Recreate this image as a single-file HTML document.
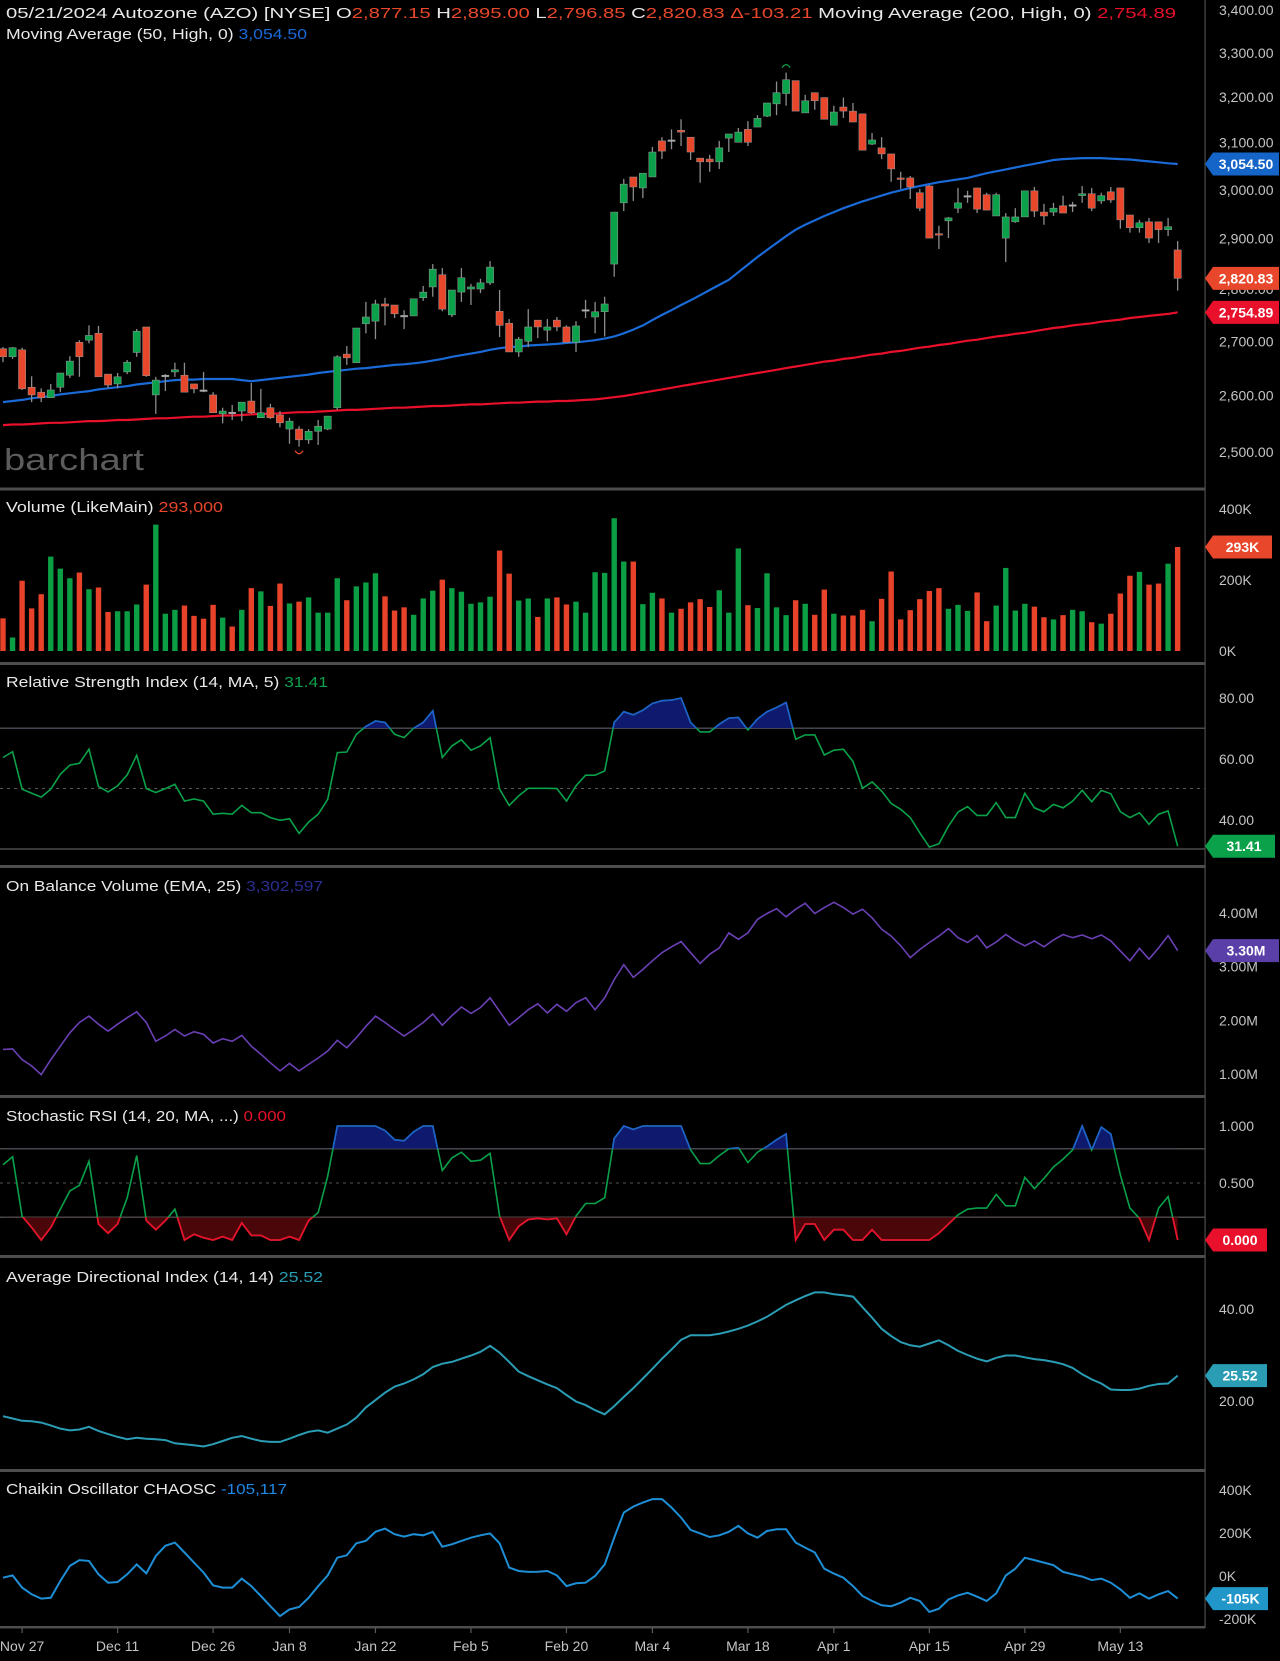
<!DOCTYPE html>
<html>
<head>
<meta charset="utf-8">
<style>
html,body{margin:0;padding:0;background:#000;}
svg{display:block;font-family:"Liberation Sans",Arial,sans-serif;}
.ax{fill:#c4c4c4;font-size:14px;}
.hd{fill:#e8e8e8;font-size:15px;}
.bt{fill:#fff;font-size:14px;font-weight:bold;text-anchor:middle;}
</style>
</head>
<body>
<svg id="chart" width="1280" height="1661" viewBox="0 0 1280 1661" xmlns="http://www.w3.org/2000/svg">
<defs>
<clipPath id="cMain"><rect x="0" y="0" width="1205" height="488"/></clipPath>
<clipPath id="cRsiAbove"><rect x="0" y="664" width="1205" height="64.3"/></clipPath>
<clipPath id="cRsi"><rect x="0" y="664" width="1205" height="201"/></clipPath>
<clipPath id="cStAbove"><rect x="0" y="1097" width="1205" height="51.8"/></clipPath>
<clipPath id="cStBelow"><rect x="0" y="1217.2" width="1205" height="38"/></clipPath>
</defs>
<rect x="0" y="0" width="1280" height="1661" fill="#000"/>

<text x="4" y="470" fill="#5c5c5c" font-size="31" textLength="140" lengthAdjust="spacingAndGlyphs">barchart</text>

<g id="grid">
<line x1="0" x2="1205" y1="728.3" y2="728.3" stroke="#4a4a4a" stroke-width="1.5"/>
<line x1="0" x2="1205" y1="788.5" y2="788.5" stroke="#555" stroke-dasharray="3,4"/>
<line x1="0" x2="1205" y1="849" y2="849" stroke="#4a4a4a" stroke-width="1.5"/>
<line x1="0" x2="1205" y1="1148.8" y2="1148.8" stroke="#4a4a4a" stroke-width="1.5"/>
<line x1="0" x2="1205" y1="1183" y2="1183" stroke="#555" stroke-dasharray="3,4"/>
<line x1="0" x2="1205" y1="1217.2" y2="1217.2" stroke="#4a4a4a" stroke-width="1.5"/>
</g>

<g id="marks"></g>

<g>
<rect x="0" y="487.5" width="1205" height="3" fill="#4d4d4d"/>
<rect x="0" y="662" width="1205" height="3" fill="#4d4d4d"/>
<rect x="0" y="865" width="1205" height="3" fill="#4d4d4d"/>
<rect x="0" y="1095" width="1205" height="3" fill="#4d4d4d"/>
<rect x="0" y="1255" width="1205" height="3" fill="#4d4d4d"/>
<rect x="0" y="1469" width="1205" height="3" fill="#4d4d4d"/>
<rect x="0" y="1626" width="1205" height="2.5" fill="#4d4d4d"/>
<rect x="1204.5" y="0" width="1.2" height="1628" fill="#4d4d4d"/>
</g>

<g id="axes"></g>

<text class="hd" x="6" y="18" textLength="1170" lengthAdjust="spacingAndGlyphs">05/21/2024 Autozone (AZO) [NYSE] O<tspan fill="#e8472b">2,877.15</tspan> H<tspan fill="#e8472b">2,895.00</tspan> L<tspan fill="#e8472b">2,796.85</tspan> C<tspan fill="#e8472b">2,820.83</tspan> <tspan fill="#e8472b">Δ-103.21</tspan> Moving Average  (200, High, 0) <tspan fill="#e8102a">2,754.89</tspan></text>
<text class="hd" x="6" y="39" textLength="301" lengthAdjust="spacingAndGlyphs">Moving Average  (50, High, 0) <tspan fill="#1a6ad8">3,054.50</tspan></text>
<text class="hd" x="6" y="512" textLength="217" lengthAdjust="spacingAndGlyphs">Volume  (LikeMain) <tspan fill="#e8472b">293,000</tspan></text>
<text class="hd" x="6" y="687" textLength="322" lengthAdjust="spacingAndGlyphs">Relative Strength Index  (14, MA, 5) <tspan fill="#0aa14a">31.41</tspan></text>
<text class="hd" x="6" y="891" textLength="317" lengthAdjust="spacingAndGlyphs">On Balance Volume  (EMA, 25) <tspan fill="#2b2f8f">3,302,597</tspan></text>
<text class="hd" x="6" y="1121" textLength="280" lengthAdjust="spacingAndGlyphs">Stochastic RSI  (14, 20, MA, ...) <tspan fill="#e8102a">0.000</tspan></text>
<text class="hd" x="6" y="1282" textLength="317" lengthAdjust="spacingAndGlyphs">Average Directional Index  (14, 14) <tspan fill="#2a9db5">25.52</tspan></text>
<text class="hd" x="6" y="1494" textLength="281" lengthAdjust="spacingAndGlyphs">Chaikin Oscillator CHAOSC <tspan fill="#1e88e5">-105,117</tspan></text>
</svg>

<script>
const opens=[2686,2671,2684,2615,2606,2596,2615,2637,2698,2702,2715,2639,2621,2643,2679,2727,2601,2637,2643,2637,2621,2610,2601,2567,2570,2572,2590,2560,2578,2565,2540,2540,2521,2536,2540,2578,2676,2660,2733,2738,2771,2769,2749,2748,2783,2804,2828,2750,2794,2800,2800,2812,2757,2734,2680,2700,2740,2721,2740,2727,2698,2760,2746,2756,2849,2973,3027,3004,3027,3104,3106,3127,3112,3067,3065,3059,3110,3101,3129,3134,3158,3185,3208,3237,3165,3210,3199,3138,3178,3169,3163,3097,3089,3076,3025,3025,2994,3008,2910,2936,2962,2988,3004,2990,2946,2901,2934,2944,2998,2954,2954,2967,2969,2988,2992,2977,2996,3004,2948,2922,2934,2934,2918,2877.15];
const highs=[2689,2689,2688,2635,2613,2621,2641,2672,2702,2730,2729,2639,2641,2665,2723,2727,2634,2639,2660,2660,2621,2643,2606,2578,2583,2588,2623,2612,2585,2572,2560,2545,2540,2556,2563,2674,2691,2725,2775,2779,2783,2769,2759,2781,2806,2849,2841,2798,2841,2810,2820,2855,2798,2742,2708,2761,2740,2742,2746,2730,2738,2779,2775,2785,2954,3023,3027,3035,3091,3112,3129,3151,3112,3067,3074,3104,3119,3132,3147,3160,3187,3235,3255,3237,3205,3210,3199,3181,3199,3187,3163,3121,3112,3076,3038,3029,3002,3010,2926,2944,3004,2998,3004,2994,2994,2952,2962,2998,3006,2971,2973,2988,2975,3008,3004,2994,3006,3004,2948,2938,2942,2934,2942,2895];
const lows=[2661,2667,2610,2588,2588,2596,2606,2632,2634,2696,2634,2613,2613,2639,2671,2634,2567,2608,2634,2606,2604,2606,2569,2550,2556,2554,2567,2560,2558,2543,2514,2509,2514,2512,2538,2574,2656,2660,2715,2704,2730,2744,2723,2748,2777,2785,2757,2746,2775,2769,2792,2808,2708,2680,2671,2689,2706,2700,2719,2698,2680,2744,2715,2709,2824,2956,2977,2983,3027,3065,3086,3093,3063,3015,3038,3044,3080,3101,3093,3134,3156,3160,3181,3169,3165,3172,3151,3138,3154,3145,3084,3095,3065,3017,3002,2981,2956,2901,2879,2901,2952,2973,2952,2958,2946,2853,2932,2944,2944,2928,2946,2952,2954,2973,2956,2971,2973,2920,2912,2912,2891,2891,2905,2796.85];
const closes=[2671,2688,2612,2601,2596,2610,2641,2663,2671,2711,2634,2619,2634,2661,2719,2636,2628,2636,2647,2606,2612,2609,2569,2572,2569,2588,2569,2569,2560,2551,2554,2521,2536,2545,2563,2671,2669,2725,2746,2771,2767,2752,2748,2781,2794,2839,2761,2798,2822,2804,2812,2843,2730,2680,2704,2727,2727,2727,2727,2698,2729,2759,2756,2771,2954,3012,3006,3035,3080,3082,3105,3123,3080,3059,3059,3089,3119,3123,3101,3153,3187,3210,3239,3169,3192,3192,3151,3167,3169,3145,3084,3106,3076,3044,3023,3006,2962,2901,2908,2942,2973,2987,2960,2958,2990,2944,2944,2998,2956,2946,2962,2952,2968,2992,2962,2988,2979,2938,2922,2932,2901,2918,2924,2820.83];
const ma50=[2588,2590,2592,2595,2597,2599,2602,2604,2606,2608,2611,2613,2615,2617,2620,2622,2624,2626,2628,2629,2629,2630,2630,2630,2630,2628,2626,2628,2630,2632,2634,2636,2638,2641,2643,2645,2647,2649,2650,2652,2654,2656,2657,2659,2661,2664,2667,2671,2674,2677,2680,2684,2687,2689,2690,2692,2693,2694,2695,2697,2698,2700,2702,2705,2709,2715,2722,2730,2740,2750,2759,2769,2778,2788,2798,2808,2818,2833,2848,2863,2877,2891,2905,2918,2928,2937,2946,2954,2962,2969,2976,2982,2988,2994,2999,3004,3008,3012,3016,3019,3022,3025,3030,3035,3039,3043,3047,3051,3055,3059,3063,3065,3066,3067,3067,3067,3066,3065,3064,3062,3060,3058,3056,3054.5];
const ma200=[2547,2548,2548,2549,2550,2551,2551,2552,2553,2554,2554,2555,2556,2556,2557,2558,2559,2559,2560,2561,2562,2562,2563,2564,2564,2565,2566,2567,2567,2568,2569,2570,2570,2571,2572,2573,2574,2574,2575,2576,2577,2578,2578,2579,2580,2581,2581,2582,2583,2584,2584,2585,2586,2587,2587,2588,2589,2589,2590,2590,2591,2592,2593,2595,2597,2599,2602,2605,2608,2611,2614,2617,2620,2623,2626,2629,2632,2635,2638,2641,2644,2647,2650,2653,2656,2659,2662,2664,2667,2669,2672,2675,2677,2680,2682,2685,2688,2690,2693,2695,2698,2701,2703,2706,2709,2711,2714,2716,2719,2722,2725,2727,2730,2732,2734,2737,2739,2741,2744,2746,2748,2750,2752,2754.89];
const volumeK=[92,38,198,120,160,266,232,205,221,174,179,110,112,112,131,187,356,105,116,128,99,91,130,94,69,116,177,168,127,190,134,139,151,108,108,205,143,182,193,219,154,114,123,102,148,170,201,177,167,133,137,153,283,218,142,148,96,148,151,131,139,108,222,220,374,252,252,132,164,148,108,119,137,146,124,171,108,289,129,121,219,123,101,143,133,102,173,105,100,100,116,84,147,224,89,115,146,169,177,119,130,113,165,84,128,234,114,133,125,95,89,101,116,112,81,77,105,162,212,223,187,190,246,293];
const rsi=[60.5,62.4,50.1,48.8,47.5,50.1,55.0,58.0,58.6,63.2,51.0,49.2,51.2,54.8,61.2,50.3,49.0,50.3,51.7,46.2,46.9,46.2,41.9,42.2,41.9,44.8,42.4,42.4,40.8,39.9,40.4,35.6,39.3,41.9,46.8,62.1,62.3,68.1,70.7,72.5,72.0,68.1,67.0,70.1,72.0,75.8,60.5,64.3,66.3,62.9,64.3,67.0,50.1,44.8,47.9,50.4,50.4,50.4,50.3,46.2,51.2,54.7,54.7,56.1,72.0,75.5,74.5,76.0,78.2,79.1,79.3,80.0,72.0,68.9,68.9,71.4,73.4,73.6,69.5,73.1,75.5,76.9,78.5,66.5,67.9,67.9,61.3,62.9,63.2,59.2,50.4,52.5,49.5,45.4,43.5,40.8,35.8,31.1,32.2,38.0,42.6,44.4,41.5,41.5,45.7,40.8,40.8,48.8,44.0,42.7,45.1,44.0,46.2,49.7,46.0,49.7,48.6,42.7,40.8,42.4,38.6,41.9,43.0,31.41];
const obvM=[1.46,1.47,1.27,1.15,0.99,1.27,1.52,1.77,1.96,2.08,1.93,1.80,1.93,2.05,2.16,1.96,1.61,1.71,1.83,1.71,1.79,1.74,1.58,1.66,1.61,1.72,1.52,1.37,1.21,1.06,1.20,1.06,1.18,1.30,1.43,1.63,1.49,1.68,1.89,2.08,1.96,1.83,1.71,1.83,1.96,2.12,1.91,2.09,2.25,2.13,2.24,2.42,2.17,1.91,2.05,2.20,2.31,2.14,2.30,2.17,2.33,2.42,2.20,2.42,2.76,3.04,2.80,2.95,3.11,3.26,3.37,3.47,3.26,3.06,3.23,3.35,3.63,3.51,3.63,3.88,3.99,4.08,3.93,4.07,4.18,3.99,4.10,4.20,4.10,3.98,4.07,3.91,3.70,3.57,3.39,3.17,3.32,3.45,3.57,3.71,3.54,3.45,3.58,3.35,3.46,3.60,3.48,3.39,3.48,3.37,3.50,3.60,3.54,3.59,3.52,3.59,3.48,3.29,3.11,3.34,3.14,3.35,3.58,3.30];
const stochRsi=[0.66,0.73,0.21,0.11,0.0,0.11,0.27,0.43,0.48,0.69,0.14,0.06,0.14,0.37,0.74,0.17,0.09,0.17,0.27,0.0,0.05,0.02,0.0,0.03,0.0,0.15,0.04,0.04,0.0,0.0,0.03,0.0,0.17,0.24,0.56,1.0,1.0,1.0,1.0,1.0,0.96,0.88,0.87,0.95,1.0,1.0,0.61,0.72,0.77,0.69,0.70,0.76,0.21,0.0,0.12,0.18,0.19,0.18,0.19,0.05,0.21,0.32,0.32,0.37,0.89,1.0,0.97,1.0,1.0,1.0,1.0,1.0,0.79,0.67,0.67,0.74,0.80,0.81,0.68,0.77,0.82,0.88,0.93,0.0,0.14,0.14,0.0,0.09,0.09,0.0,0.0,0.09,0.0,0.0,0.0,0.0,0.0,0.0,0.06,0.14,0.22,0.27,0.28,0.28,0.40,0.30,0.30,0.55,0.45,0.54,0.64,0.71,0.79,1.0,0.79,0.99,0.93,0.57,0.28,0.19,0.0,0.28,0.38,0.0];
const adx=[16.7,16.2,15.7,15.6,15.3,14.7,14.0,13.6,13.8,14.4,13.5,12.8,12.2,11.7,12.0,11.8,11.7,11.5,10.8,10.6,10.4,10.1,10.6,11.3,12.0,12.4,11.8,11.3,11.1,11.1,11.8,12.6,13.3,13.6,13.1,14.0,14.9,16.4,18.6,20.2,21.8,23.1,23.8,24.7,25.8,27.4,28.1,28.5,29.2,29.9,30.7,32.0,30.5,28.5,26.4,25.4,24.5,23.6,22.8,21.3,19.9,19.1,18.0,17.1,18.9,20.9,22.8,24.9,27.0,29.2,31.2,33.3,34.3,34.3,34.3,34.6,35.1,35.7,36.4,37.3,38.3,39.6,40.9,41.9,42.8,43.6,43.6,43.2,43.0,42.7,40.4,38.1,35.7,34.1,32.8,32.1,31.8,32.5,33.2,32.1,30.9,30.0,29.2,28.6,29.4,29.9,29.9,29.5,29.1,28.9,28.5,28.0,27.2,25.8,24.7,23.8,22.5,22.4,22.4,22.7,23.3,23.7,23.8,25.52];
const chaikinK=[-8,3,-54,-85,-105,-101,-23,47,74,70,8,-31,-28,8,54,12,93,140,155,109,62,16,-43,-54,-54,-12,-47,-93,-140,-186,-155,-144,-101,-47,3,85,96,152,163,205,220,194,183,194,189,205,136,147,163,178,189,198,152,39,23,19,20,23,3,-47,-34,-31,0,54,178,295,322,341,357,357,318,271,214,198,181,189,205,233,198,178,209,217,217,155,132,109,34,11,-8,-47,-93,-116,-136,-140,-124,-101,-116,-167,-152,-109,-90,-78,-96,-116,-81,3,34,85,74,62,50,19,8,-3,-19,-12,-31,-62,-101,-81,-105,-85,-70,-105.117];
const dateLabels=["Nov 27","Dec 11","Dec 26","Jan 8","Jan 22","Feb 5","Feb 20","Mar 4","Mar 18","Apr 1","Apr 15","Apr 29","May 13"];
const dateIdx=[2,12,22,30,39,49,59,68,78,87,97,107,117];
const priceTicks=[3400,3300,3200,3100,3000,2900,2800,2700,2600,2500];
const volTicks=[400,200,0];
const rsiTicks=[80,60,40];
const obvTicks=[4,3,2,1];
const stochTicks=[1,0.5];
const adxTicks=[40,20];
const chaikinTicks=[400,200,0,-200];

const NS="http://www.w3.org/2000/svg";
const svg=document.getElementById('chart');
const marks=document.getElementById('marks');
const axes=document.getElementById('axes');
function mk(tag,attrs,parent){const e=document.createElementNS(NS,tag);for(const k in attrs)e.setAttribute(k,attrs[k]);(parent||marks).appendChild(e);return e;}

const xOf=i=>3+i*9.55;
const yPrice=p=>10+1437*Math.log(3400/p);
const yVol=v=>651-v*0.355;
const yRsi=v=>698+(80-v)*3.05;
const yObv=v=>913+(4-v)*53.7;
const yStoch=v=>1240-v*114;
const yAdx=v=>1309+(40-v)*4.6;
const yChk=v=>1576-v*0.2154;

const GREEN="#0aa14a", RED="#e8472b";
function isUp(i){const d=closes[i]-opens[i];if(Math.abs(d)<1.5)return i===0?true:closes[i]>=closes[i-1];return d>0;}

// Main panel
const mainG=mk('g',{'clip-path':'url(#cMain)'});


function linePath(arr,yf){return arr.map((v,i)=>(i?'L':'M')+xOf(i).toFixed(1)+' '+yf(v).toFixed(1)).join(' ');}
const ma200Line=mk('path',{d:linePath(ma200,yPrice),stroke:'#e8102a','stroke-width':2.2,fill:'none'},mainG);


const ma50Line=mk('path',{d:linePath(ma50,yPrice),stroke:'#1a6ad8','stroke-width':2.2,fill:'none'},mainG);


for(let i=0;i<closes.length;i++){
  const x=xOf(i),o=opens[i],c=closes[i];
  const doji=Math.abs(c-o)<1.5;
  const col=doji?'#b0b0b0':(c>o?GREEN:RED);
  const g=mk('g',{},mainG);
  
  
  mk('line',{x1:x,x2:x,y1:yPrice(highs[i]),y2:yPrice(lows[i]),stroke:'#8c8c8c','stroke-width':1.3},g);
  const yt=yPrice(Math.max(o,c)),yb=yPrice(Math.min(o,c));
  mk('rect',{x:x-3.6,y:yt,width:7.2,height:Math.max(1.5,yb-yt),fill:col,stroke:'#9a9a9a','stroke-width':0.5},g);
}
// high/low markers
let hiI=0,loI=0;for(let i=0;i<highs.length;i++){if(highs[i]>highs[hiI])hiI=i;if(lows[i]<lows[loI])loI=i;}
const hiM=mk('path',{d:`M${xOf(hiI)-4} ${yPrice(highs[hiI])-5} Q${xOf(hiI)} ${yPrice(highs[hiI])-11} ${xOf(hiI)+4} ${yPrice(highs[hiI])-5}`,stroke:GREEN,'stroke-width':1.3,fill:'none'},mainG);


const loM=mk('path',{d:`M${xOf(loI)-4} ${yPrice(lows[loI])+4} Q${xOf(loI)} ${yPrice(lows[loI])+10} ${xOf(loI)+4} ${yPrice(lows[loI])+4}`,stroke:RED,'stroke-width':1.3,fill:'none'},mainG);



// Volume
for(let i=0;i<volumeK.length;i++){
  const r=mk('rect',{x:xOf(i)-2.7,y:yVol(volumeK[i]),width:5.4,height:651-yVol(volumeK[i]),fill:isUp(i)?'#0b9e44':'#e8432a'});
  
  
}

// RSI
const rsiPts=rsi.map((v,i)=>xOf(i).toFixed(1)+','+yRsi(v).toFixed(1));
const rsiFill=mk('polygon',{points:xOf(0)+',728.3 '+rsiPts.join(' ')+' '+xOf(rsi.length-1)+',728.3',fill:'#0f1a6e','clip-path':'url(#cRsiAbove)'});


const rsiLine=mk('path',{d:linePath(rsi,yRsi),stroke:GREEN,'stroke-width':1.6,fill:'none','clip-path':'url(#cRsi)'});


const rsiHi=mk('path',{d:linePath(rsi,yRsi),stroke:'#1f5fd0','stroke-width':1.6,fill:'none','clip-path':'url(#cRsiAbove)'});



// OBV
const obvLine=mk('path',{d:linePath(obvM,yObv),stroke:'#6a40b4','stroke-width':1.6,fill:'none'});



// Stoch RSI
const stPts=stochRsi.map((v,i)=>xOf(i).toFixed(1)+','+yStoch(v).toFixed(1));
const stFillHi=mk('polygon',{points:xOf(0)+',1148.8 '+stPts.join(' ')+' '+xOf(stochRsi.length-1)+',1148.8',fill:'#0f1a6e','clip-path':'url(#cStAbove)'});


const stFillLo=mk('polygon',{points:xOf(0)+',1217.2 '+stPts.join(' ')+' '+xOf(stochRsi.length-1)+',1217.2',fill:'#4a0608','clip-path':'url(#cStBelow)'});


const stLine=mk('path',{d:linePath(stochRsi,yStoch),stroke:GREEN,'stroke-width':1.6,fill:'none'});


const stHi=mk('path',{d:linePath(stochRsi,yStoch),stroke:'#1f5fd0','stroke-width':1.6,fill:'none','clip-path':'url(#cStAbove)'});


const stLo=mk('path',{d:linePath(stochRsi,yStoch),stroke:'#e8102a','stroke-width':1.8,fill:'none','clip-path':'url(#cStBelow)'});



// ADX
const adxLine=mk('path',{d:linePath(adx,yAdx),stroke:'#2a9db5','stroke-width':2,fill:'none'});



// Chaikin
const chkLine=mk('path',{d:linePath(chaikinK,yChk),stroke:'#1e8fd6','stroke-width':2,fill:'none'});



// Axis labels
function tickLabel(txt,y,name){const t=mk('text',{x:1219,y:y+5,'class':'ax'},axes);t.textContent=txt;}
const fmtPrice=p=>p.toLocaleString('en-US',{minimumFractionDigits:2,maximumFractionDigits:2});
priceTicks.forEach(p=>tickLabel(fmtPrice(p),yPrice(p),'price-tick-label'));
volTicks.forEach(v=>tickLabel(v+'K',yVol(v),'volume-tick-label'));
rsiTicks.forEach(v=>tickLabel(v.toFixed(2),yRsi(v),'rsi-tick-label'));
obvTicks.forEach(v=>tickLabel(v.toFixed(2)+'M',yObv(v),'obv-tick-label'));
stochTicks.forEach(v=>tickLabel(v.toFixed(3),yStoch(v),'stoch-tick-label'));
adxTicks.forEach(v=>tickLabel(v.toFixed(2),yAdx(v),'adx-tick-label'));
chaikinTicks.forEach(v=>tickLabel(v+'K',yChk(v),'chaikin-tick-label'));

// Date axis
dateLabels.forEach((lab,k)=>{
  const x=xOf(dateIdx[k]);
  const tk=mk('line',{x1:x,x2:x,y1:1628,y2:1633,stroke:'#5a5a5a','stroke-width':1.2},axes);
  
  
  const t=mk('text',{x:x,y:1651,'class':'ax','text-anchor':'middle'},axes);
  t.textContent=lab;
  
  
});

// Badges
function badge(txt,y,w,color,name){
  const g=mk('g',{},axes);
  
  
  mk('polygon',{points:`1205,${y} 1213,${y-11.5} ${1213+w},${y-11.5} ${1213+w},${y+11.5} 1213,${y+11.5}`,fill:color},g);
  const t=mk('text',{x:1213+w/2,y:y+5,'class':'bt'},g);
  t.textContent=txt;
}
badge('3,054.50',yPrice(ma50[ma50.length-1]),66,'#1565c8','ma50-value-badge');
badge('2,820.83',yPrice(closes[closes.length-1]),66,'#e8472b','last-price-badge');
badge('2,754.89',yPrice(ma200[ma200.length-1]),66,'#e8102a','ma200-value-badge');
badge(volumeK[volumeK.length-1]+'K',yVol(volumeK[volumeK.length-1]),59,'#e8472b','volume-value-badge');
badge(rsi[rsi.length-1].toFixed(2),yRsi(rsi[rsi.length-1]),62,'#0aa14a','rsi-value-badge');
badge(obvM[obvM.length-1].toFixed(2)+'M',yObv(obvM[obvM.length-1]),66,'#5b3fa8','obv-value-badge');
badge(stochRsi[stochRsi.length-1].toFixed(3),yStoch(stochRsi[stochRsi.length-1]),54,'#e8102a','stoch-value-badge');
badge(adx[adx.length-1].toFixed(2),yAdx(adx[adx.length-1]),54,'#2a9db5','adx-value-badge');
badge(Math.round(chaikinK[chaikinK.length-1])+'K',yChk(chaikinK[chaikinK.length-1]),55,'#2196c8','chaikin-value-badge');
</script>
</body>
</html>
